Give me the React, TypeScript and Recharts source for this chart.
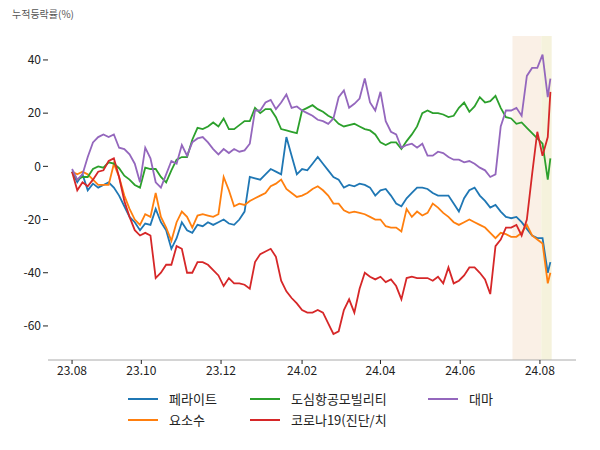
import React from 'react';
import { LineChart, Line, XAxis, YAxis, ReferenceArea } from 'recharts';

// days since 2023-08-09
const days = [
  0, 4, 8, 12, 16, 20, 24, 28, 32, 36, 40, 44, 48, 52, 56, 60, 64, 68, 72, 76,
  80, 84, 88, 92, 96, 100, 104, 108, 112, 116, 120, 124, 128, 132, 136, 140, 144, 148, 152, 156,
  160, 164, 168, 172, 176, 180, 184, 188, 192, 196, 200, 204, 208, 212, 216, 220, 224, 228, 232, 236,
  240, 244, 248, 252, 256, 260, 264, 268, 272, 276, 280, 284, 288, 292, 296, 300, 304, 308, 312, 316,
  320, 324, 328, 332, 336, 340, 344, 348, 352, 356, 360, 364, 366,
];

const ferrite = [
  -2, -6, -3, -9, -6.5, -8, -7, -6, -8, -11, -15, -19, -21, -24, -21.5, -22, -16, -21, -24, -31,
  -27, -21, -24, -25, -22, -22.5, -21, -22, -21, -20, -21.5, -22, -20, -17, -4, -4.5, -5, -3, -1, -2,
  -3, 11, 4, -3, -1, -1.5, 1, 3.5, 1, -1.5, -4, -5, -8, -7, -7.5, -6.5, -7, -8, -11, -9,
  -8.5, -11, -14, -15, -12, -10, -8, -8, -8.5, -10, -11, -11, -11, -14, -17, -12, -9, -8, -11, -13,
  -15.5, -14.5, -17, -19, -19.5, -19, -21, -23.5, -26, -27, -27, -40, -36,
];

const urea = [
  -2, -3, -2, -3, -5, -7, -7, -7, 1, -4, -11, -16, -20, -22, -18, -19, -10, -19, -23, -28,
  -21, -17, -19, -23, -18.5, -18, -18.5, -19, -18, -4, -9, -15, -14, -14.5, -13, -12, -11, -10, -7.5, -6.5,
  -5, -8.5, -10, -11.5, -11, -10, -8.5, -7.5, -9, -11, -14, -14, -16.5, -17.5, -17, -17.5, -18, -19, -20, -20,
  -22.5, -23, -23, -24.5, -16, -19, -17, -18.5, -17.5, -14, -15.5, -17.5, -19, -21, -22, -21, -20, -21, -22, -23,
  -25, -27, -25, -25.5, -26.5, -26.5, -25, -22, -26, -27.5, -29, -44, -40,
];

const uam = [
  -2, -5, -4, -4, -1, 0, -0.5, 1.5, 1, -0.7, -3.5, -5, -7, -8, -0.5, -1, -1, -4, -6, -1.5,
  2.5, 3.5, 3.5, 10, 14.5, 14, 15, 16.5, 15, 18, 14, 14, 15.5, 17, 17, 22, 20, 21.5, 21.5, 18.5,
  14, 13.5, 13, 12.5, 21, 22, 23, 21.5, 20.5, 19, 18, 16, 15, 15.5, 16, 15, 14, 13.5, 12, 9,
  8, 9, 9, 6.5, 9.5, 12, 15, 20, 21, 20, 20, 19.5, 18.5, 19, 22, 24, 20.5, 22.5, 26, 24,
  24.5, 26.5, 22, 18.5, 18, 16, 16.5, 14.5, 12.5, 10.5, 8.5, -5, 3,
];

const corona = [
  -2, -9, -6, -7.5, -5, -2, -1.5, 2, 3, -4, -13, -19, -24, -26, -25, -26, -42, -40, -37, -37,
  -30, -31, -40, -40, -36, -36, -37, -39, -41, -45, -42, -44, -44, -44.5, -46, -36, -33, -32, -31, -34,
  -43, -47, -49.5, -51.5, -54, -55, -55, -54, -55, -59, -63, -62, -54, -50, -55, -46, -40, -41.5, -42.5, -41.5,
  -43.5, -42.5, -45, -50, -42, -41.5, -42, -42, -42, -43, -41.5, -44, -38, -44, -43, -41, -38, -38, -40, -42.5,
  -48, -30, -27.5, -23, -23, -22, -26, -20, -3, 13, 4, 11, 28,
];

const hemp = [
  -1, -5, -3, 3.5, 9, 11, 12, 11, 12, 7, 6.5, 4.5, 1, -6, 7, 3, -6, -8, -3, 2,
  1, 8, 4, 9, 10.5, 11, 9, 6.5, 4.5, 6.5, 5, 6.5, 5.5, 6, 8.5, 21, 21, 24, 25, 21.5,
  24, 27, 22, 22.5, 21, 20, 19, 17.5, 17, 16, 18, 26, 28.5, 22, 23.5, 25.5, 33, 24, 21, 28,
  17, 13, 12, 7, 8, 8.5, 7, 8.5, 4, 4, 5.5, 5, 3.5, 2.5, 2.5, 1.5, 2, 1, -0.5, -1.5,
  -4, -3, 15, 21, 21, 22, 19, 34, 37, 37, 42, 26, 33,
];

const seriesNames = ['페라이트', '요소수', '도심항공모빌리티', '코로나19(진단/치', '대마'];
const seriesColors = ['#1f77b4', '#ff7f0e', '#2ca02c', '#d62728', '#9467bd'];
const seriesValues = [ferrite, urea, uam, corona, hemp];

const tickDays = [0, 53, 114, 176, 236, 297, 358];
const tickLabels = ['23.08', '23.10', '23.12', '24.02', '24.04', '24.06', '24.08'];
const yTicks = [-60, -40, -20, 0, 20, 40];

// highlighted periods (days)
const bands = [
  { from: 337, to: 359, color: '#faf0e6' },
  { from: 359, to: 367, color: '#f5f2dc' },
];

const data = days.map((d, i) => {
  const row: Record<string, number> = { day: d };
  seriesValues.forEach((vals, k) => {
    row['s' + k] = vals[i];
  });
  return row;
});

// legend order: column-wise like the original
const legendOrder = [0, 2, 4, 1, 3];

const font = '"Noto Sans CJK KR", "Noto Sans", sans-serif';

const App = () => {
  return (
    <div style={{ position: 'absolute', left: 0, top: 0, width: 600, height: 450, background: '#fff', fontFamily: font }}>
      <div style={{ position: 'absolute', left: 12, top: 6, fontSize: 10, color: '#555' }}>누적등락률(%)</div>
      <LineChart width={600} height={450} data={data} margin={{ top: 36, right: 24, left: 8, bottom: 60 }}>
        {bands.map((b) => (
          <ReferenceArea key={b.from} x1={b.from} x2={b.to} y1={-72.8} y2={49} fill={b.color} fillOpacity={1} stroke="none" ifOverflow="extendDomain" />
        ))}
        <XAxis
          dataKey="day"
          type="number"
          domain={[-18.4, 385.6]}
          ticks={tickDays}
          tickFormatter={(v) => tickLabels[tickDays.indexOf(v)]}
          height={30}
          stroke="#aaaaaa"
          tickLine={{ stroke: '#222' }}
          tickSize={4}
          tick={{ fill: '#222', fontSize: 12, fontFamily: font }}
          allowDataOverflow
        />
        <YAxis
          type="number"
          domain={[-72.8, 49]}
          ticks={yTicks}
          width={40}
          axisLine={false}
          tickLine={{ stroke: '#222' }}
          tickSize={5}
          tick={{ fill: '#222', fontSize: 12, fontFamily: font }}
          allowDataOverflow
        />
        {seriesValues.map((_, k) => (
          <Line
            key={k}
            type="linear"
            dataKey={'s' + k}
            name={seriesNames[k]}
            stroke={seriesColors[k]}
            strokeWidth={1.8}
            dot={false}
            isAnimationActive={false}
          />
        ))}
      </LineChart>
      <div
        style={{
          position: 'absolute',
          left: 128,
          top: 389,
          display: 'grid',
          gridTemplateColumns: '122px 178px 100px',
          rowGap: 2,
          fontSize: 13,
          color: '#222',
        }}
      >
        {legendOrder.map((k) => (
          <div key={k} style={{ display: 'flex', alignItems: 'center', height: 19 }}>
            <span style={{ display: 'inline-block', width: 30, height: 2, background: seriesColors[k], marginRight: 11 }} />
            <span>{seriesNames[k]}</span>
          </div>
        ))}
      </div>
    </div>
  );
};

export default App;
